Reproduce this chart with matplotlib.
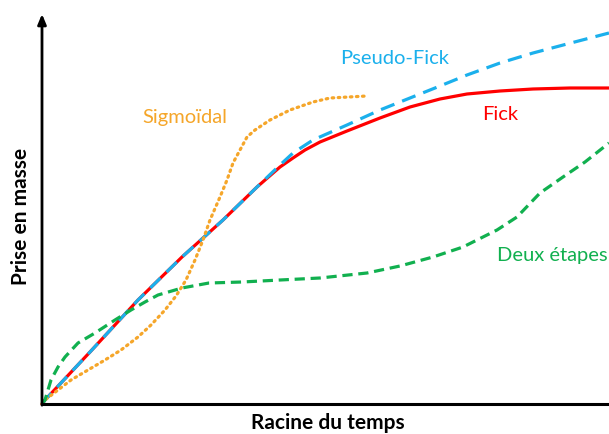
import matplotlib
matplotlib.use("Agg")
import matplotlib.pyplot as plt

W, H = 609, 434
X0, Y0, YTOP = 42, 404, 14

# Curves (pixel positions -> data: x = px-42, y = 404-py)
fick_px = [42, 45, 90, 138, 182, 223, 257, 280, 293, 305, 320, 347, 380, 410, 440, 467, 500, 533, 570, 609]
fick_py = [404, 400, 352, 300, 257, 220, 187, 167, 158, 150, 142, 131, 118, 107, 99, 94, 91, 89, 88, 88]

pseudo_px = [42, 45, 90, 138, 182, 223, 257, 280, 293, 313, 347, 380, 410, 440, 467, 500, 533, 567, 609]
pseudo_py = [404, 400, 352, 300, 257, 220, 187, 165, 153, 140, 125, 110, 98, 86, 75, 63, 53, 44, 33]

sig_px = [42, 45, 58, 71, 88, 105, 121, 138, 151, 165, 176, 186, 195, 203, 210, 220, 227, 233, 240, 247, 255, 270, 290, 313, 330, 367]
sig_py = [404, 400, 390, 380, 370, 360, 350, 337, 325, 310, 296, 280, 260, 240, 220, 197, 180, 163, 150, 137, 130, 120, 110, 102, 98, 96]

deux_px = [42, 45, 51, 58, 65, 78, 95, 115, 131, 145, 158, 182, 209, 242, 280, 320, 367, 400, 433, 463, 497, 517, 540, 563, 585, 609]
deux_py = [404, 400, 380, 367, 357, 343, 333, 320, 310, 302, 295, 288, 283, 282, 280, 278, 273, 266, 257, 247, 230, 217, 193, 177, 162, 143]

def tx(v):
    return [p - X0 for p in v]

def ty(v):
    return [Y0 - p for p in v]

RED = "#FF0000"
BLUE = "#1BB0EC"
ORANGE = "#F5A62A"
GREEN = "#11B04F"

plt.rcParams['font.family'] = ['Lato', 'DejaVu Sans']

fig = plt.figure(figsize=(W / 100, H / 100), dpi=100)
ax = fig.add_axes([X0 / W, (H - Y0) / H, (W - X0) / W, (Y0 - YTOP) / H])
ax.set_xlim(0, W - X0)
ax.set_ylim(0, Y0 - YTOP)
ax.set_xticks([])
ax.set_yticks([])
for s in ['top', 'right', 'left']:
    ax.spines[s].set_visible(False)
ax.spines['bottom'].set_linewidth(2.2)
ax.spines['bottom'].set_color('black')
ax.annotate('', xy=(0, 1.0), xytext=(0, -0.003), xycoords='axes fraction',
            arrowprops=dict(arrowstyle='-|>,head_length=0.6,head_width=0.25', lw=2.0, color='black',
                            shrinkA=0, shrinkB=0), annotation_clip=False)

lw = 2.3
ax.plot(tx(fick_px), ty(fick_py), color=RED, lw=lw, solid_capstyle='round',
        solid_joinstyle='round', clip_on=False)
ax.plot(tx(pseudo_px), ty(pseudo_py), color=BLUE, lw=lw, linestyle=(0, (4.5, 2.6)), clip_on=False)
ax.plot(tx(sig_px), ty(sig_py), color=ORANGE, lw=lw, linestyle=(0, (0.5, 1.4)),
        dash_capstyle='round', clip_on=False)
ax.plot(tx(deux_px), ty(deux_py), color=GREEN, lw=lw, linestyle=(0, (3.2, 1.8)), clip_on=False)

def ftext(x, y, s, **kw):
    fig.text(x / W, 1 - y / H, s, ha='center', va='center', **kw)

ftext(395, 58, "Pseudo-Fick", color=BLUE, fontsize=14.5)
ftext(500, 115, "Fick", color=RED, fontsize=14.5)
ftext(185, 118, "Sigmoïdal", color=ORANGE, fontsize=14.5)
ftext(552, 256, "Deux étapes", color=GREEN, fontsize=14.5)
ftext(328, 423, "Racine du temps", color='black', fontsize=15, fontweight='bold')
ftext(21, 216, "Prise en masse", color='black', fontsize=15, fontweight='bold', rotation=90)

fig.savefig("out.png", dpi=100)
